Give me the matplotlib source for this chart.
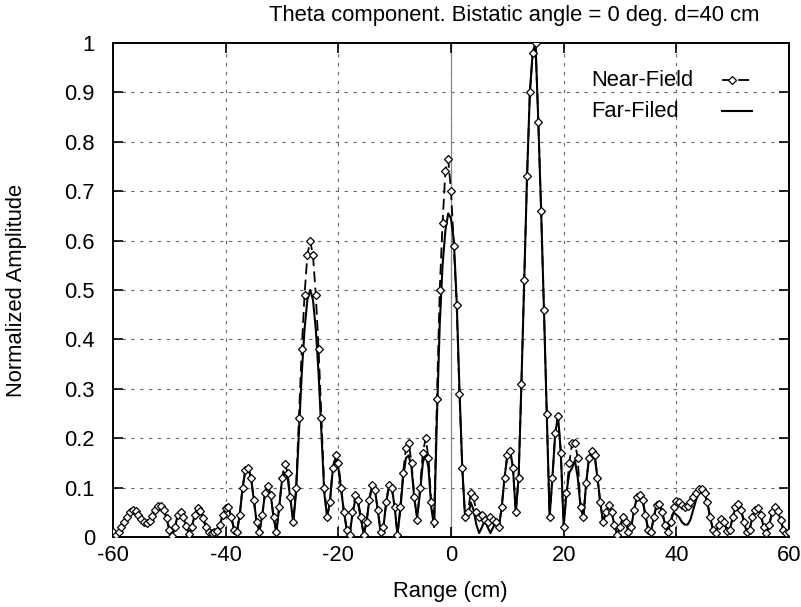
import numpy as np
import matplotlib
matplotlib.use("Agg")
import matplotlib.pyplot as plt
from matplotlib.lines import Line2D

plt.rcParams['font.family'] = ['Liberation Sans', 'DejaVu Sans']

# sample positions (cm), step 0.5 from -60 to 60
range_cm = np.arange(-60.0, 60.25, 0.5)

near_field = [
    # -60 .. -40
    0.010, 0.005, 0.010, 0.020, 0.030, 0.040, 0.050, 0.055, 0.052, 0.045,
    0.037, 0.030, 0.028, 0.033, 0.043, 0.055, 0.062, 0.063, 0.055, 0.038,
    0.015, 0.002, 0.020, 0.045, 0.050, 0.040, 0.022, 0.006, 0.020, 0.045,
    0.058, 0.052, 0.038, 0.020, 0.010, 0.008, 0.010, 0.012, 0.025, 0.045,
    0.058,
    # -39.5 .. -20
    0.061, 0.040, 0.015, 0.010, 0.045, 0.100, 0.135, 0.140, 0.120, 0.075,
    0.030, 0.010, 0.045, 0.090, 0.103, 0.085, 0.040, 0.010, 0.060, 0.120,
    0.148, 0.130, 0.080, 0.030, 0.100, 0.240, 0.380, 0.490, 0.570, 0.600,
    0.570, 0.490, 0.380, 0.240, 0.100, 0.040, 0.070, 0.140, 0.165, 0.150,
    # -19.5 .. 0
    0.100, 0.050, 0.015, 0.005, 0.050, 0.085, 0.075, 0.040, 0.005, 0.030,
    0.075, 0.105, 0.095, 0.055, 0.010, 0.020, 0.070, 0.105, 0.100, 0.060,
    0.005, 0.060, 0.130, 0.180, 0.190, 0.150, 0.080, 0.035, 0.100, 0.170,
    0.200, 0.160, 0.070, 0.030, 0.280, 0.500, 0.635, 0.740, 0.765, 0.700,
    # 0.5 .. 20
    0.590, 0.470, 0.290, 0.140, 0.040, 0.050, 0.090, 0.080, 0.050, 0.040,
    0.045, 0.035, 0.030, 0.040, 0.035, 0.030, 0.020, 0.060, 0.120, 0.165,
    0.175, 0.140, 0.050, 0.120, 0.310, 0.520, 0.730, 0.900, 0.980, 1.000,
    0.840, 0.660, 0.460, 0.250, 0.040, 0.120, 0.210, 0.245, 0.170, 0.020,
    # 20.5 .. 40
    0.090, 0.150, 0.190, 0.190, 0.160, 0.060, 0.040, 0.110, 0.160, 0.175,
    0.165, 0.120, 0.070, 0.030, 0.050, 0.065, 0.050, 0.025, 0.005, 0.020,
    0.040, 0.030, 0.010, 0.020, 0.055, 0.080, 0.085, 0.075, 0.045, 0.015,
    0.010, 0.040, 0.065, 0.067, 0.050, 0.025, 0.010, 0.030, 0.060, 0.072,
    # 40.5 .. 60
    0.070, 0.065, 0.061, 0.062, 0.070, 0.080, 0.090, 0.097, 0.098, 0.090,
    0.070, 0.040, 0.015, 0.008, 0.025, 0.036, 0.030, 0.012, 0.015, 0.040,
    0.060, 0.067, 0.055, 0.030, 0.010, 0.015, 0.040, 0.055, 0.058, 0.045,
    0.020, 0.008, 0.025, 0.050, 0.060, 0.052, 0.035, 0.015, 0.008, 0.010,
]

far_field = [
    # -60 .. -40
    0.010, 0.005, 0.010, 0.020, 0.030, 0.040, 0.050, 0.055, 0.052, 0.045,
    0.037, 0.030, 0.028, 0.033, 0.043, 0.055, 0.062, 0.063, 0.055, 0.038,
    0.015, 0.002, 0.020, 0.045, 0.050, 0.040, 0.022, 0.006, 0.020, 0.045,
    0.058, 0.052, 0.038, 0.020, 0.010, 0.008, 0.010, 0.012, 0.025, 0.045,
    0.058,
    # -39.5 .. -20
    0.061, 0.040, 0.015, 0.010, 0.045, 0.100, 0.135, 0.140, 0.120, 0.075,
    0.030, 0.010, 0.045, 0.090, 0.103, 0.085, 0.040, 0.010, 0.060, 0.115,
    0.130, 0.120, 0.075, 0.030, 0.090, 0.210, 0.330, 0.420, 0.480, 0.500,
    0.480, 0.420, 0.330, 0.210, 0.090, 0.040, 0.070, 0.135, 0.160, 0.140,
    # -19.5 .. 0
    0.095, 0.050, 0.015, 0.005, 0.045, 0.075, 0.068, 0.038, 0.005, 0.030,
    0.075, 0.105, 0.095, 0.055, 0.010, 0.020, 0.070, 0.105, 0.100, 0.060,
    0.005, 0.055, 0.120, 0.160, 0.165, 0.140, 0.075, 0.040, 0.090, 0.150,
    0.170, 0.140, 0.060, 0.020, 0.240, 0.430, 0.550, 0.620, 0.655, 0.645,
    # 0.5 .. 20
    0.600, 0.480, 0.300, 0.140, 0.040, 0.040, 0.070, 0.055, 0.025, 0.008,
    0.020, 0.035, 0.020, 0.008, 0.020, 0.030, 0.020, 0.060, 0.120, 0.165,
    0.175, 0.140, 0.050, 0.120, 0.310, 0.520, 0.730, 0.900, 0.980, 1.000,
    0.840, 0.660, 0.460, 0.250, 0.040, 0.120, 0.210, 0.245, 0.170, 0.020,
    # 20.5 .. 40
    0.090, 0.130, 0.140, 0.155, 0.120, 0.060, 0.040, 0.110, 0.160, 0.175,
    0.165, 0.120, 0.070, 0.030, 0.050, 0.065, 0.050, 0.025, 0.005, 0.020,
    0.040, 0.030, 0.010, 0.020, 0.055, 0.080, 0.085, 0.075, 0.045, 0.015,
    0.010, 0.040, 0.065, 0.067, 0.050, 0.025, 0.010, 0.030, 0.050, 0.045,
    # 40.5 .. 60
    0.040, 0.030, 0.025, 0.025, 0.035, 0.055, 0.075, 0.090, 0.095, 0.090,
    0.070, 0.040, 0.015, 0.008, 0.025, 0.036, 0.030, 0.012, 0.015, 0.040,
    0.060, 0.067, 0.055, 0.030, 0.010, 0.015, 0.040, 0.055, 0.058, 0.045,
    0.020, 0.008, 0.025, 0.050, 0.060, 0.052, 0.035, 0.015, 0.008, 0.010,
]

series_labels = ["Near-Field", "Far-Filed"]
x_ticks = [-60, -40, -20, 0, 20, 40, 60]
x_tick_labels = ["-60", "-40", "-20", "0", "20", "40", "60"]
y_ticks = [0, 0.1, 0.2, 0.3, 0.4, 0.5, 0.6, 0.7, 0.8, 0.9, 1.0]
y_tick_labels = ["0", "0.1", "0.2", "0.3", "0.4", "0.5", "0.6", "0.7", "0.8", "0.9", "1"]

W, H = 801, 607
fig = plt.figure(figsize=(W / 100, H / 100), dpi=100)
ax = fig.add_axes([113 / W, 1 - 537 / H, (789 - 113) / W, (537 - 43) / H])

fs = 15.8

# grid and zero axis
for xt in x_ticks[1:-1]:
    ax.axvline(xt, color='#666666', lw=0.8, ls=(0, (3, 5)), zorder=1)
for yt in y_ticks[1:-1]:
    ax.axhline(yt, color='#666666', lw=0.8, ls=(0, (3, 5)), zorder=1)
ax.axvline(0, color='#888888', lw=0.9, zorder=1)

near_style = dict(color='black', lw=1.3, ls=(0, (6, 3)), marker='D', ms=4.4,
                  mfc='white', mec='black', mew=0.9)
far_style = dict(color='black', lw=1.5)

ax.plot(range_cm, far_field, zorder=3, **far_style)
ax.plot(range_cm, near_field, zorder=4, **near_style)

ax.set_xlim(-60, 60)
ax.set_ylim(0, 1)
ax.set_xticks(x_ticks)
ax.set_xticklabels(x_tick_labels, fontsize=fs)
ax.set_yticks(y_ticks)
ax.set_yticklabels(y_tick_labels, fontsize=fs)
ax.tick_params(direction='in', length=7, width=1.2, top=True, right=True)
ax.tick_params(axis='x', pad=6)
ax.tick_params(axis='y', pad=13)
for s in ax.spines.values():
    s.set_linewidth(1.4)

# gnuplot-style key: text left, sample on the right
key_rows = [(0.925, near_style, series_labels[0]), (0.862, far_style, series_labels[1])]
for ky, style, lab in key_rows:
    ax.text(0.707, ky, lab, transform=ax.transAxes, ha='left', va='center', fontsize=fs)
    st = dict(style)
    for k in ('marker', 'ms', 'mfc', 'mec', 'mew'):
        st.pop(k, None)
    ax.add_line(Line2D([0.901, 0.945], [ky, ky], transform=ax.transAxes, **st))
    if 'marker' in style:
        ax.add_line(Line2D([0.916], [ky], transform=ax.transAxes, ls='none',
                           marker='D', ms=4.4, mfc='white', mec='black', mew=0.9))

fig.text(514 / W, 1 - 15 / H, "Theta component. Bistatic angle = 0 deg. d=40 cm",
         ha='center', va='center', fontsize=fs)
fig.text(450 / W, 1 - 592 / H, "Range (cm)", ha='center', va='center', fontsize=fs)
fig.text(17 / W, 1 - 290 / H, "Normalized Amplitude", ha='center', va='center',
         rotation=90, fontsize=fs)

fig.savefig("out.png", dpi=100)
